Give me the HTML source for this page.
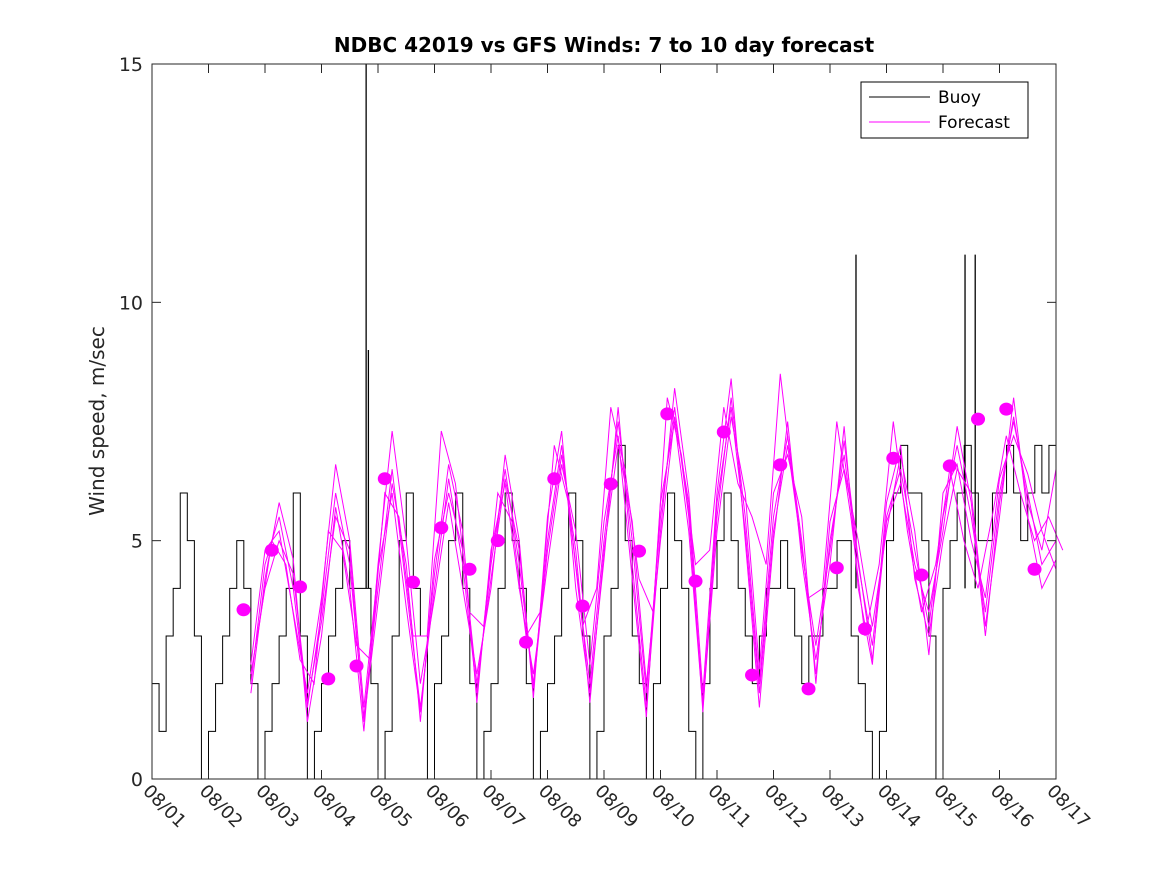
<!DOCTYPE html>
<html><head><meta charset="utf-8"><style>
body{margin:0;background:#fff;}
</style></head><body>
<svg id="chart" width="1167" height="875" xmlns="http://www.w3.org/2000/svg" font-family="DejaVu Sans, sans-serif">
<rect x="0" y="0" width="1167" height="875" fill="#fff"/>
<text x="604" y="52" text-anchor="middle" font-size="20" font-weight="bold">NDBC 42019 vs GFS Winds: 7 to 10 day forecast</text>
<text transform="translate(104,421) rotate(-90)" text-anchor="middle" font-size="20" fill="#262626">Wind speed, m/sec</text>
<g id="plot"></g>
<g id="axes"></g>
<g>
<rect x="861" y="82" width="167" height="56" fill="#fff" stroke="#000" stroke-width="1"/>
<line x1="869" y1="97" x2="930" y2="97" stroke="#000" stroke-width="1"/>
<text x="938" y="103" font-size="17">Buoy</text>
<line x1="869" y1="122" x2="930" y2="122" stroke="#f0f" stroke-width="1"/>
<text x="938" y="128" font-size="17">Forecast</text>
</g>
</svg>
<script>
const xTickLabels=["08/01","08/02","08/03","08/04","08/05","08/06","08/07","08/08","08/09","08/10","08/11","08/12","08/13","08/14","08/15","08/16","08/17"];
const yTicks=[0,5,10,15];
const buoyStepHours=3;
const buoyValues=[
2,1,3,4,6,5,3,0,
1,2,3,4,5,4,2,0,
1,2,3,4,6,3,0,1,
2,3,4,5,4,4,4,2,
0,1,3,5,6,4,3,0,
2,3,5,6,4,2,0,1,
2,4,6,5,4,2,0,1,
2,3,4,6,5,3,0,1,
3,4,7,5,3,2,0,2,
4,6,5,4,1,0,2,4,
5,6,5,4,3,2,3,4,
4,5,4,3,2,3,3,4,
4,5,5,3,2,1,0,1,
5,6,7,6,6,5,3,0,
4,5,6,7,6,5,5,6,
6,7,6,5,6,7,6,7,
5];
const spikeDays=[3.79,3.83,12.46,14.39,14.57];
const spikeValues=[15,9,11,11,11];
const fcStart=1.75, fcStep=0.25;
const forecastA=[2.0,4.5,5.5,4.0,1.5,3.5,6.0,4.5,1.3,4.0,6.5,4.0,1.5,4.0,6.3,4.5,1.8,4.5,6.5,4.5,2.0,5.0,7.0,4.5,2.0,5.0,7.5,5.0,1.8,5.5,7.8,5.5,1.6,5.5,8.0,5.5,2.0,5.5,7.2,5.0,2.2,5.0,6.8,4.5,2.8,5.5,6.5,4.8,3.2,5.5,7.0,5.5,3.5,6.0,7.5,6.0,4.5,5.0];
const forecastB=[1.8,4.2,5.8,4.6,1.2,3.0,5.7,4.0,1.0,4.5,7.3,5.0,2.0,3.8,5.8,4.0,2.2,4.0,6.8,5.0,1.7,5.5,7.3,4.0,1.8,4.6,7.8,4.5,1.5,5.2,8.2,6.0,1.8,6.0,8.4,5.0,1.5,5.0,7.5,4.6,2.5,4.5,7.4,4.0,2.4,5.8,7.0,4.2,3.0,5.0,6.5,6.0,3.2,5.5,8.0,5.5,4.0,4.6];
const forecastC=[2.4,4.8,5.2,3.5,1.8,3.8,6.6,5.0,1.5,4.4,6.0,3.6,1.4,4.3,6.6,5.2,1.6,4.8,6.2,4.0,2.2,4.5,6.6,5.2,2.4,5.4,7.2,4.2,1.3,5.8,7.5,5.2,1.5,5.2,7.6,6.0,2.3,6.0,6.8,5.5,2.0,5.4,6.5,5.0,3.2,5.2,6.8,5.2,2.6,6.0,6.6,5.0,3.8,6.3,7.2,6.4,5.2,4.4];
const forecastD=[2.2,4.0,5.0,4.3,1.6,3.3,5.5,4.8,1.2,3.7,6.2,4.5,1.2,4.6,6.0,4.8,2.0,4.2,6.3,4.8,1.9,4.8,6.8,4.8,1.6,4.8,7.0,5.4,2.0,5.0,7.6,5.8,1.4,5.8,7.8,5.2,1.8,5.2,7.0,4.8,2.8,4.8,7.1,4.6,2.5,5.4,6.2,4.5,3.5,5.2,7.4,5.8,3.0,5.8,7.6,5.8,4.8,6.5];
const forecastE=[3.0,5.0,4.5,2.5,2.0,5.2,4.8,2.8,2.5,6.0,5.5,3.0,3.0,7.3,6.2,3.5,3.2,6.0,5.4,3.0,3.5,7.0,5.8,3.2,4.0,7.8,6.5,4.2,3.5,8.0,6.8,4.5,4.8,7.8,6.2,5.5,4.5,8.5,6.0,3.8,4.0,7.5,5.5,3.0,4.5,7.5,5.2,3.5,4.5,6.5,5.0,4.0,5.5,7.2,6.0,5.0,5.5,4.8];
const dotStart=1.62, dotStep=0.5;
const dotValues=[3.55,4.8,4.03,2.1,2.37,6.3,4.13,5.27,4.4,5.0,2.87,6.3,3.63,6.19,4.78,7.66,4.15,7.28,2.18,6.59,1.89,4.43,3.15,6.73,4.28,6.57,7.55,7.76,4.4];

const X0=152,X1=1056,Y0=779,Y1=64,DAYS=16,YMAX=15;
const xs=d=>X0+(X1-X0)*d/DAYS;
const ys=v=>Y0-(Y0-Y1)*v/YMAX;
const NS="http://www.w3.org/2000/svg";
const plot=document.getElementById('plot');
const axes=document.getElementById('axes');
function mk(tag,attrs,parent){const e=document.createElementNS(NS,tag);for(const k in attrs)e.setAttribute(k,attrs[k]);parent.appendChild(e);return e;}

let d="";
buoyValues.forEach((v,i)=>{const t=i*buoyStepHours/24;const x=xs(t),y=ys(v);
 if(i===0)d+=`M${x},${y}`;else d+=`H${x}V${y}`;});
d+=`H${xs(DAYS)}`;
const bl=mk('path',{d:d,fill:'none',stroke:'#000','stroke-width':1},plot);


spikeDays.forEach((t,i)=>{
 const s=mk('path',{d:`M${xs(t)},${ys(4)}V${ys(spikeValues[i])}`,fill:'none',stroke:'#000','stroke-width':1.3},plot);
 
 
});
[forecastA,forecastB,forecastC,forecastD,forecastE].forEach((arr,k)=>{
 const off=k===4?0.12:0;
 const p=arr.map((v,i)=>`${i?'L':'M'}${xs(fcStart+off+i*fcStep)},${ys(v)}`).join('');
 const e=mk('path',{d:p,fill:'none',stroke:'#ff00ff','stroke-width':1},plot);
 
 
});
dotValues.forEach((v,i)=>{
 const c=mk('ellipse',{cx:xs(dotStart+i*dotStep),cy:ys(v),rx:7,ry:6.5,fill:'#ff00ff'},plot);
 
 
});
const box=mk('rect',{x:X0,y:Y1,width:X1-X0,height:Y0-Y1,fill:'none',stroke:'#262626','stroke-width':1},axes);


xTickLabels.forEach((lab,i)=>{
 const x=xs(i);
 mk('line',{x1:x,y1:Y0,x2:x,y2:Y0-9,stroke:'#262626'},axes);
 mk('line',{x1:x,y1:Y1,x2:x,y2:Y1+9,stroke:'#262626'},axes);
 const t=mk('text',{transform:`translate(${x-10},${792}) rotate(45)`,'font-size':18,fill:'#262626'},axes);
 t.textContent=lab;
 
 
});
yTicks.forEach(v=>{
 const y=ys(v);
 mk('line',{x1:X0,y1:y,x2:X0+9,y2:y,stroke:'#262626'},axes);
 mk('line',{x1:X1,y1:y,x2:X1-9,y2:y,stroke:'#262626'},axes);
 const t=mk('text',{x:143,y:y+7,'text-anchor':'end','font-size':19,fill:'#262626'},axes);
 t.textContent=v;
 
 
});
</script>
</body></html>
